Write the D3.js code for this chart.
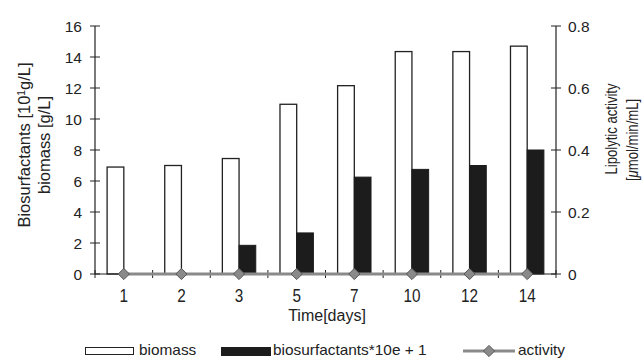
<!DOCTYPE html>
<html>
<head>
<meta charset="utf-8">
<script src="https://cdn.jsdelivr.net/npm/d3@7"></script>
<style>
body { margin: 0; background: #fff; }
svg text { font-family: "Liberation Sans", Arial, sans-serif; fill: #222; }
</style>
</head>
<body>
<div id="vis"></div>
<script>
var days = ["1", "2", "3", "5", "7", "10", "12", "14"];
var biomass = [6.9, 7.0, 7.45, 10.95, 12.15, 14.35, 14.35, 14.7];
var biosurf = [0, 0, 1.85, 2.65, 6.25, 6.75, 7.0, 8.0];
var activity = [0, 0, 0, 0, 0, 0, 0, 0];
var leftTicks = [0, 2, 4, 6, 8, 10, 12, 14, 16];
var rightTicks = [0, 0.2, 0.4, 0.6, 0.8];

var margin = {top: 26, right: 88, bottom: 84, left: 95},
	width = 644 - margin.left - margin.right,
	height = 358 - margin.top - margin.bottom;

var root = d3.select("#vis").append("svg")
	.attr("width", 644)
	.attr("height", 358);
var svg = root.append("g")
	.attr("transform", "translate(" + margin.left + "," + margin.top + ")");

// text placed by transform so it can be squeezed sideways
function label(g, px, py, txt, size, sx, anchor, rot){
	return g.append("text")
		.attr("transform", "translate(" + px + "," + py + ")" + (rot ? " rotate(" + rot + ")" : "") + " scale(" + sx + ",1)")
		.attr("text-anchor", anchor || "start")
		.style("font-size", size + "px")
		.text(txt);
}

var val = days.map(function(d, i){
	return {day: d, bio: biomass[i], surf: biosurf[i], act: activity[i]};
});

var x = d3.scaleBand().domain(days).range([0, width]);
var sub = d3.scaleBand().domain(["bio", "surf"])
	.range([0, x.bandwidth()])
	.paddingInner(0).paddingOuter(0.725);
var y = d3.scaleLinear().domain([0, 16]).range([height, 0]);
var y2 = d3.scaleLinear().domain([0, 0.8]).range([height, 0]);

// biomass bars
svg.selectAll(".bio")
	.data(val)
	.enter().append("rect")
		.attr("class", "bio")
		.attr("fill", "#fff")
		.attr("stroke", "#222")
		.attr("stroke-width", 1.3)
		.attr("x", function(d){ return x(d.day) + sub("bio"); })
		.attr("width", sub.bandwidth())
		.attr("y", function(d){ return y(d.bio); })
		.attr("height", function(d){ return height - y(d.bio); });

// biosurfactant bars
svg.selectAll(".surf")
	.data(val.filter(function(d){ return d.surf > 0; }))
	.enter().append("rect")
		.attr("class", "surf")
		.attr("fill", "#1c1c1c")
		.attr("stroke", "#1c1c1c")
		.attr("x", function(d){ return x(d.day) + sub("surf"); })
		.attr("width", sub.bandwidth())
		.attr("y", function(d){ return y(d.surf); })
		.attr("height", function(d){ return height - y(d.surf); });

// x axis, ticks between the categories
var xg = svg.append("g").attr("transform", "translate(0," + height + ")");
xg.append("line").attr("x1", 0).attr("x2", width).attr("stroke", "#222").attr("stroke-width", 1.2);
xg.selectAll(".xt")
	.data(d3.range(days.length + 1))
	.enter().append("line")
		.attr("x1", function(i){ return i * x.step(); })
		.attr("x2", function(i){ return i * x.step(); })
		.attr("y1", -4).attr("y2", 4)
		.attr("stroke", "#222");
days.forEach(function(d){
	label(xg, x(d) + x.bandwidth() / 2, 28, d, 18, 0.85, "middle");
});

// left axis
var yl = svg.append("g");
yl.append("line").attr("y1", 0).attr("y2", height).attr("stroke", "#222").attr("stroke-width", 1.2);
yl.selectAll(".t").data(leftTicks).enter().append("line")
	.attr("x1", -5).attr("x2", 5)
	.attr("y1", function(d){ return y(d); }).attr("y2", function(d){ return y(d); })
	.attr("stroke", "#222");
leftTicks.forEach(function(d){
	label(yl, -13, y(d) + 5.5, d, 15.5, 1, "end");
});

// right axis
var yr = svg.append("g").attr("transform", "translate(" + width + ",0)");
yr.append("line").attr("y1", 0).attr("y2", height).attr("stroke", "#222").attr("stroke-width", 1.2);
yr.selectAll(".t").data(rightTicks).enter().append("line")
	.attr("x1", -5).attr("x2", 5)
	.attr("y1", function(d){ return y2(d); }).attr("y2", function(d){ return y2(d); })
	.attr("stroke", "#222");
rightTicks.forEach(function(d){
	label(yr, 12, y2(d) + 5.5, d, 15.5, 1, "start");
});

// activity line
var line = d3.line()
	.x(function(d){ return x(d.day) + x.bandwidth() / 2; })
	.y(function(d){ return y2(d.act); });
svg.append("path")
	.datum(val)
	.attr("fill", "none")
	.attr("stroke", "#8a8a8a")
	.attr("stroke-width", 3)
	.attr("d", line);
var diamond = d3.symbol().type(d3.symbolDiamond2).size(80);
svg.selectAll(".pt")
	.data(val)
	.enter().append("path")
		.attr("d", diamond)
		.attr("transform", function(d){ return "translate(" + (x(d.day) + x.bandwidth() / 2) + "," + y2(d.act) + ")"; })
		.attr("fill", "#8a8a8a")
		.attr("stroke", "#555")
		.attr("stroke-width", 1);

// axis titles
var t1 = label(root, 30, 145, "", 16, 1.03, "middle", -90);
t1.text("Biosurfactants [10");
t1.append("tspan").attr("dy", -5).style("font-size", "10px").text("1");
t1.append("tspan").attr("dy", 5).text("g/L]");
label(root, 50, 145, "biomass [g/L]", 16, 1.03, "middle", -90);
label(root, 617, 129, "Lipolytic activity", 16, 0.82, "middle", -90);
var t2 = label(root, 638, 140, "[", 16, 0.82, "middle", -90);
t2.append("tspan").style("font-style", "italic").text("μ");
t2.append("tspan").text("mol/min/mL]");
label(root, 327, 321, "Time[days]", 16, 1, "middle");

// legend
root.append("rect").attr("x", 85.5).attr("y", 347.5).attr("width", 48).attr("height", 7)
	.attr("fill", "#fff").attr("stroke", "#222");
label(root, 139, 355, "biomass", 14, 1.1, "start");
root.append("rect").attr("x", 221).attr("y", 347).attr("width", 50).attr("height", 9)
	.attr("fill", "#1c1c1c");
label(root, 273, 355, "biosurfactants*10e + 1", 14, 1.1, "start");
root.append("line").attr("x1", 463).attr("x2", 515).attr("y1", 351).attr("y2", 351)
	.attr("stroke", "#8a8a8a").attr("stroke-width", 3);
root.append("path").attr("d", diamond).attr("transform", "translate(489,351)")
	.attr("fill", "#8a8a8a").attr("stroke", "#555");
label(root, 518, 355, "activity", 14, 1.1, "start");
</script>
</body>
</html>
